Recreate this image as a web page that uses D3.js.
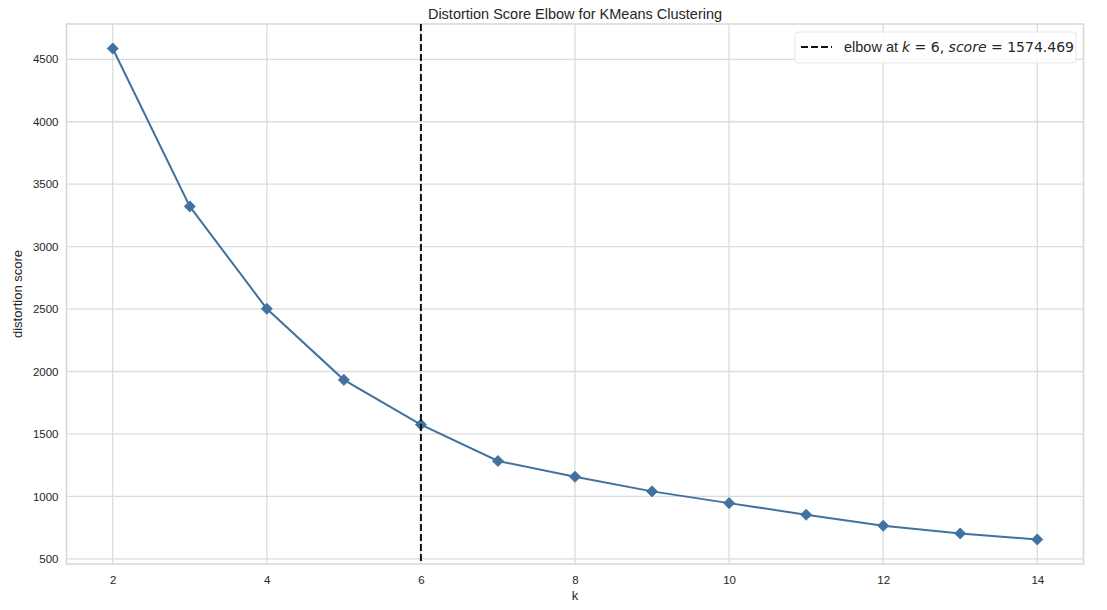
<!DOCTYPE html>
<html><head><meta charset="utf-8">
<script src="https://cdn.jsdelivr.net/npm/d3@7"></script>
<style>body{margin:0;background:#fff;}svg{display:block;font-family:"Liberation Sans",Arial,sans-serif;}</style>
</head><body><svg id="c" width="1107" height="610"></svg>
<script>
const ks = [2,3,4,5,6,7,8,9,10,11,12,13,14];
const scores = [4586,3322,2502,1933,1574.469,1283,1157,1040,946,853,765,703,655];
const xTicks = [2,4,6,8,10,12,14];
const yTicks = [500,1000,1500,2000,2500,3000,3500,4000,4500];
const elbowK = 6, elbowScore = 1574.469;
const title = "Distortion Score Elbow for KMeans Clustering";

const svg = d3.select("#c");
const L=66.5, R=1083.5, T=24, B=564;
const x = d3.scaleLinear().domain([1.4,14.6]).range([L,R]);
const ymin=d3.min(scores), ymax=d3.max(scores), pad=(ymax-ymin)*0.05;
const y = d3.scaleLinear().domain([ymin-pad, ymax+pad]).range([B,T]);
const grid="#dcdcdc";
const FF="Liberation Sans, Arial, sans-serif";

svg.append("g").selectAll("line").data(yTicks).join("line")
 .attr("x1",L).attr("x2",R).attr("y1",d=>y(d)).attr("y2",d=>y(d))
 .attr("stroke",grid).attr("stroke-width",1.3);
svg.append("g").selectAll("line").data(xTicks).join("line")
 .attr("y1",T).attr("y2",B).attr("x1",d=>x(d)).attr("x2",d=>x(d))
 .attr("stroke",grid).attr("stroke-width",1.3);
svg.append("rect").attr("x",L).attr("y",T).attr("width",R-L).attr("height",B-T)
 .attr("fill","none").attr("stroke","#d6d6d6").attr("stroke-width",1.5);

const xa = svg.append("g").attr("transform",`translate(0,${B})`)
 .call(d3.axisBottom(x).tickValues(xTicks).tickSize(0).tickPadding(12).tickFormat(d3.format("d")));
const ya = svg.append("g").attr("transform",`translate(${L},0)`)
 .call(d3.axisLeft(y).tickValues(yTicks).tickSize(0).tickPadding(8).tickFormat(d3.format("d")));
[xa,ya].forEach(a=>{a.select(".domain").remove();a.selectAll("text").attr("font-size",11.5).attr("fill","#262626").attr("font-family",FF);});

const col="#41729f";
svg.append("path").datum(ks.map((k,i)=>[k,scores[i]]))
 .attr("d",d3.line().x(d=>x(d[0])).y(d=>y(d[1])))
 .attr("fill","none").attr("stroke",col).attr("stroke-width",2);
svg.append("g").selectAll("path").data(ks.map((k,i)=>[k,scores[i]])).join("path")
 .attr("d",d3.symbol().type(d3.symbolSquare).size(62))
 .attr("transform",d=>`translate(${x(d[0])},${y(d[1])}) rotate(45)`)
 .attr("fill",col).attr("stroke",col).attr("stroke-width",0.8);

svg.append("line").attr("x1",x(elbowK)).attr("x2",x(elbowK)).attr("y1",T).attr("y2",B)
 .attr("stroke","#111").attr("stroke-width",2).attr("stroke-dasharray","7,3");

svg.append("text").attr("x",(L+R)/2).attr("y",19).attr("text-anchor","middle")
 .attr("font-size",14.5).attr("fill","#262626").text(title);
svg.append("text").attr("x",(L+R)/2).attr("y",600).attr("text-anchor","middle")
 .attr("font-size",13).attr("fill","#262626").text("k");
svg.append("text").attr("transform",`translate(22,${(T+B)/2}) rotate(-90)`).attr("text-anchor","middle")
 .attr("font-size",13).attr("fill","#262626").text("distortion score");

const lg = svg.append("g");
lg.append("rect").attr("x",795).attr("y",32).attr("width",281).attr("height",31).attr("rx",3)
 .attr("fill","rgba(255,255,255,0.85)").attr("stroke","#e6e6e6");
lg.append("line").attr("x1",801).attr("x2",832).attr("y1",47).attr("y2",47)
 .attr("stroke","#111").attr("stroke-width",2).attr("stroke-dasharray","7,3");
const lt = lg.append("text").attr("x",844).attr("y",52).attr("font-size",14.5).attr("fill","#262626");
lt.append("tspan").text("elbow at ");
lt.append("tspan").attr("font-style","italic").attr("font-family","DejaVu Sans, sans-serif").attr("font-size",14).text("k");
lt.append("tspan").attr("font-family","DejaVu Sans, sans-serif").attr("font-size",14).text(" = " + elbowK + ", ");
lt.append("tspan").attr("font-style","italic").attr("font-family","DejaVu Sans, sans-serif").attr("font-size",14).text("score");
lt.append("tspan").attr("font-family","DejaVu Sans, sans-serif").attr("font-size",14).text(" = " + elbowScore.toFixed(3));
</script></body></html>
